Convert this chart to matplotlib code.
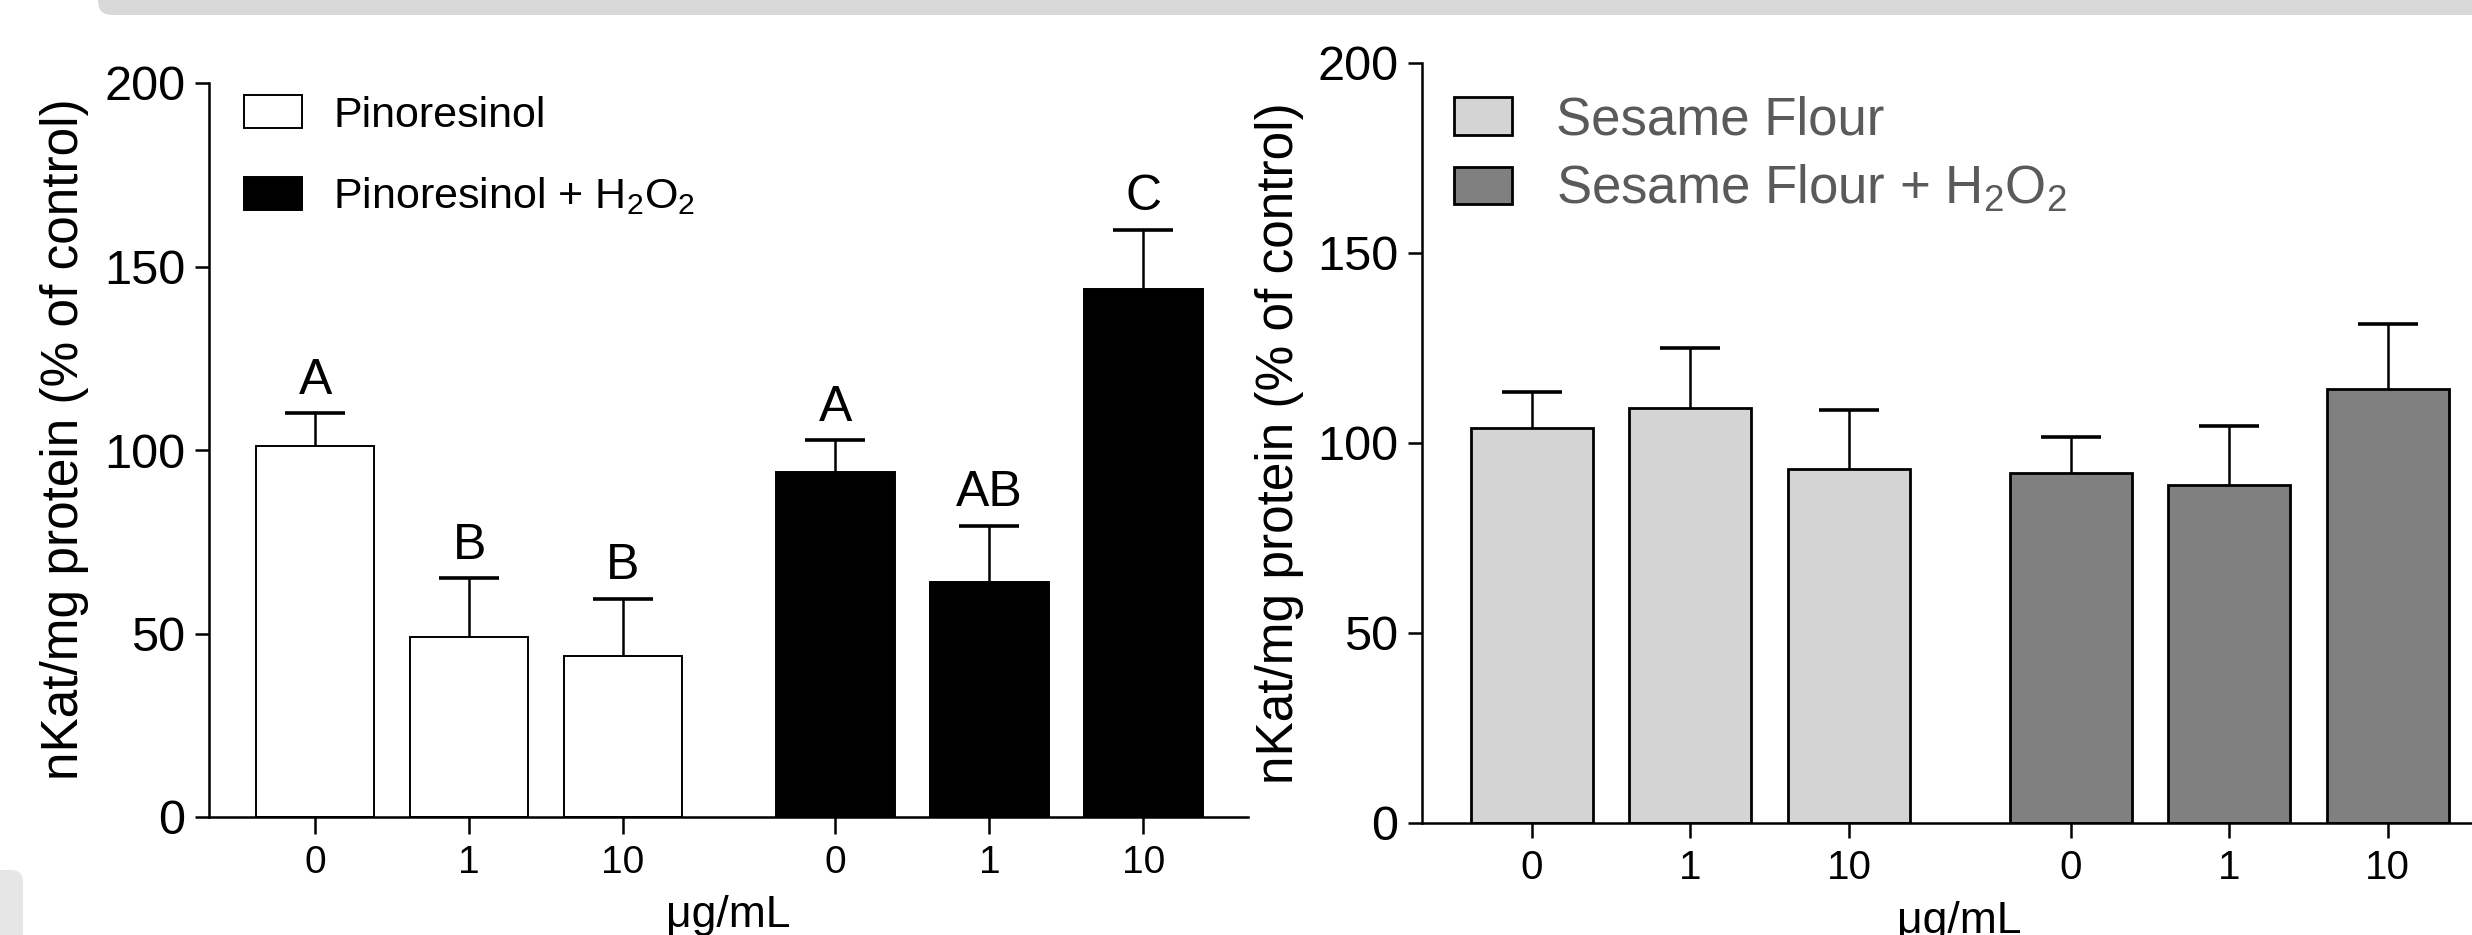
import matplotlib
matplotlib.use("Agg")
import numpy as np
import matplotlib.pyplot as plt
from matplotlib.patches import FancyBboxPatch
from matplotlib.transforms import IdentityTransform

plt.rcParams['font.family'] = ['Liberation Sans', 'DejaVu Sans']
plt.rcParams['mathtext.fontset'] = 'custom'
plt.rcParams['mathtext.rm'] = 'Liberation Sans'
plt.rcParams['mathtext.it'] = 'Liberation Sans:italic'
plt.rcParams['mathtext.bf'] = 'Liberation Sans:bold'
plt.rcParams['mathtext.default'] = 'regular'

# ---------------- data ----------------
doses = ['0', '1', '10']
pino = [101, 49, 44]
pino_err = [9, 16, 15.5]
pino_letters = ['A', 'B', 'B']
pino_h2o2 = [94, 64, 144]
pino_h2o2_err = [8.7, 15.4, 16]
pino_h2o2_letters = ['A', 'AB', 'C']
sesame = [104, 109.2, 93.2]
sesame_err = [9.4, 15.8, 15.5]
sesame_h2o2 = [92.1, 89, 114.2]
sesame_h2o2_err = [9.5, 15.5, 17.1]
ylabel = 'nKat/mg protein (% of control)'
xlabel = '\u03bcg/mL'

W, H = 2472, 935
fig = plt.figure(figsize=(W / 100, H / 100), dpi=100)

axL = fig.add_axes([209 / W, (H - 817) / H, (1248 - 209) / W, (817 - 83) / H])
axR = fig.add_axes([1422 / W, (H - 823) / H, (2497 - 1422) / W, (823 - 63) / H])


def style(ax, xfs, xtick_len):
    for s in ['top', 'right']:
        ax.spines[s].set_visible(False)
    for s in ['left', 'bottom']:
        ax.spines[s].set_linewidth(1.8)
    ax.set_ylim(0, 200)
    ax.set_yticks([0, 50, 100, 150, 200])
    ax.tick_params(axis='y', labelsize=35, length=10, width=1.8, pad=7)
    ax.tick_params(axis='x', labelsize=xfs, length=xtick_len, width=1.8, pad=8)


def draw(ax, g1, e1, g2, e2, c1, c2, lw, gap, lab1, lab2):
    n = len(doses)
    x1 = list(range(n))
    x2 = [i + gap + n - 1 for i in range(n)]
    ax.bar(x1, g1, width=0.77, color=c1, edgecolor='black', linewidth=lw, label=lab1, zorder=2)
    ax.bar(x2, g2, width=0.77, color=c2, edgecolor='black', linewidth=lw, label=lab2, zorder=2)
    vals = list(g1) + list(g2)
    eb = ax.errorbar(x1 + x2, vals, yerr=[[0] * (2 * n), list(e1) + list(e2)],
                     fmt='none', ecolor='black', elinewidth=1.8, capsize=21.5, capthick=2.6, zorder=1)
    # keep only the upper caps
    for cl in eb.lines[1]:
        if np.allclose(cl.get_ydata(), vals):
            cl.set_visible(False)
    ax.set_xticks(x1 + x2)
    ax.set_xticklabels(doses + doses)
    return x1, x2


# ---------------- left panel ----------------
style(axL, 28, 12)
x1, x2 = draw(axL, pino, pino_err, pino_h2o2, pino_h2o2_err, 'white', 'black', 1.4, 1.38,
              'Pinoresinol', 'Pinoresinol + H$_2$O$_2$')
axL.set_xlim(-0.69, 6.06)
for x, v, e, t in zip(x1 + x2, pino + pino_h2o2, pino_err + pino_h2o2_err,
                      pino_letters + pino_h2o2_letters):
    axL.annotate(t, (x, v + e), xytext=(0, 14), textcoords='offset points',
                 ha='center', va='baseline', fontsize=36)
axL.set_ylabel(ylabel, fontsize=37, va='center')
axL.yaxis.set_label_coords(-0.139, 0.515)
axL.set_xlabel(xlabel, fontsize=32, va='baseline')
axL.xaxis.set_label_coords(0.5, (817 - 927) / 734)
axL.legend(loc='upper left', bbox_to_anchor=(0.0337, 0.983), frameon=False, fontsize=31,
           handlelength=1.35, handleheight=0.8, handletextpad=0.72, labelspacing=0.92,
           borderpad=0, borderaxespad=0)

# ---------------- right panel ----------------
style(axR, 29, 11)
x1, x2 = draw(axR, sesame, sesame_err, sesame_h2o2, sesame_h2o2_err, '#d4d4d4', '#808080', 2.0, 1.4,
              'Sesame Flour', 'Sesame Flour + H$_2$O$_2$')
axR.set_xlim(-0.694, 6.09)
axR.set_ylabel(ylabel, fontsize=37, va='center')
axR.yaxis.set_label_coords(-0.133, 0.5)
axR.set_xlabel(xlabel, fontsize=32, va='baseline')
axR.xaxis.set_label_coords(0.5, (823 - 933) / 760)
axR.legend(loc='upper left', bbox_to_anchor=(0.03, 0.957), frameon=False, fontsize=38,
           labelcolor='#5a5a5a', handlelength=1.1, handleheight=0.72, handletextpad=0.83,
           labelspacing=0.34, borderpad=0, borderaxespad=0)

# ---------------- page decorations ----------------
fig.patches.append(FancyBboxPatch((98, H - 15), W, 40, boxstyle='round,pad=0,rounding_size=14',
                                  facecolor='#d9d9d9', edgecolor='none', transform=IdentityTransform(),
                                  figure=fig))
fig.patches.append(FancyBboxPatch((-40, -40), 63, 105, boxstyle='round,pad=0,rounding_size=12',
                                  facecolor='#e6e6e6', edgecolor='none', transform=IdentityTransform(),
                                  figure=fig))

fig.savefig('out.png', dpi=100)
